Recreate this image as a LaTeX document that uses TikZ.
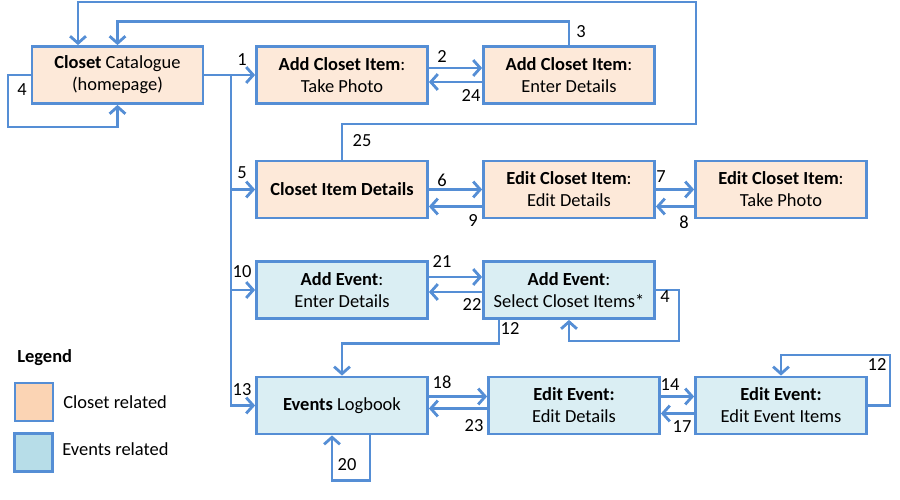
\documentclass[tikz,border=0pt]{standalone}
\usepackage{fontspec}
\setmainfont{Carlito}
\usetikzlibrary{arrows.meta}

\definecolor{boxline}{RGB}{85,142,213}
\definecolor{closetfill}{RGB}{253,233,217}
\definecolor{eventfill}{RGB}{218,238,243}
\definecolor{closetkey}{RGB}{251,212,180}
\definecolor{eventkey}{RGB}{183,221,232}

\begin{document}
\begin{tikzpicture}[x=0.02cm,y=-0.02cm,font=\fontsize{10.5}{12.5}\selectfont,
	screen/.style={rectangle,draw=boxline,line width=1.6pt,inner sep=0mm,minimum width=3.42cm,minimum height=1.14cm,align=center},
	closet/.style={screen,fill=closetfill},
	event/.style={screen,fill=eventfill},
	key/.style={rectangle,draw=boxline,line width=1.6pt,inner sep=0mm,minimum size=0.76cm},
	link/.style={draw=boxline,line width=1.6pt,-{Straight Barb[length=4pt,width=9pt]}},
	num/.style={inner sep=0mm}]
					\useasboundingbox (0,0) rectangle (900,500);
					\node (cat)       at (117.5,  75) [closet] {\textbf{Closet} Catalogue\\(homepage)};
					\node (takephoto) at (  342,  75) [closet] {\textbf{Add Closet Item}:\\Take Photo};
					\node (enter)     at (  569,  75) [closet] {\textbf{Add Closet Item}:\\Enter Details};
					\node (details)   at (  342,189.5) [closet] {\textbf{Closet Item Details}};
					\node (editdet)   at (  569,189.5) [closet] {\textbf{Edit Closet Item}:\\Edit Details};
					\node (edittake)  at (  781,189.5) [closet] {\textbf{Edit Closet Item}:\\Take Photo};
					\node (addev)     at (  342, 290) [event] {\textbf{Add Event}:\\Enter Details};
					\node (select)    at (  569, 290) [event] {\textbf{Add Event}:\\Select Closet Items*};
					\node (logbook)   at (  342,405.5) [event] {\textbf{Events} Logbook};
					\node (evdet)     at (  574,405.5) [event] {\textbf{Edit Event:}\\Edit Details};
					\node (evitems)   at (  781,405.5) [event] {\textbf{Edit Event:}\\Edit Event Items};
					\node (legend)    at (   17, 358) [num,anchor=west] {\textbf{Legend}};
					\node (keyc)      at (   34, 402) [key,fill=closetkey] {};
					\node (keye)      at ( 33.5,452.5) [key,fill=eventkey] {};
					\node (keyctext)  at (   63, 402) [num,anchor=west] {Closet related};
					\node (keyetext)  at (   62, 449) [num,anchor=west] {Events related};
					\coordinate (trunk) at (231,75);
					\coordinate (c25)   at (696,124);
					\coordinate (c25t)  at (696,2);
					\coordinate (c4)    at (8,127);
					\coordinate (c4b)   at (679,341);
					\coordinate (c12)   at (890,355);
					\draw [link] (cat) -- (takephoto);
					\draw [link] (trunk) |- (logbook);
					\draw [link] (trunk |- details) -- (details);
					\draw [link] (trunk |- addev) -- (addev);
					\draw [link] ([shift={(0,-7)}]takephoto.east) -- ([shift={(0,-7)}]enter.west);
					\draw [link] ([shift={(0,7)}]enter.west) -- ([shift={(0,7)}]takephoto.east);
					\draw [link] (enter.north) -- ++(0,-24) -| (cat.north);
					\draw [link] (details.north) |- (c25) -- (c25t) -| ([shift={(-39.5,0)}]cat.north);
					\draw [link] (cat.west) -| (c4) -| (cat.south);
					\draw [link] (details.east) -- (editdet.west);
					\draw [link] ([shift={(0,17)}]editdet.west) -- ([shift={(0,17)}]details.east);
					\draw [link] (editdet.east) -- (edittake.west);
					\draw [link] ([shift={(0,17)}]edittake.west) -- ([shift={(0,17)}]editdet.east);
					\draw [link] ([shift={(0,-13)}]addev.east) -- ([shift={(0,-13)}]select.west);
					\draw [link] ([shift={(0,2)}]select.west) -- ([shift={(0,2)}]addev.east);
					\draw [link] (select.east) -| (c4b) -| (select.south);
					\draw [link] ([shift={(-70,0)}]select.south) -- ++(0,24) -| (logbook.north);
					\draw [link] ([shift={(0,-9)}]logbook.east) -- ([shift={(0,-9)}]evdet.west);
					\draw [link] ([shift={(0,3)}]evdet.west) -- ([shift={(0,3)}]logbook.east);
					\draw [link] ([shift={(0,-9)}]evdet.east) -- ([shift={(0,-9)}]evitems.west);
					\draw [link] ([shift={(0,8)}]evitems.west) -- ([shift={(0,8)}]evdet.east);
					\draw [link] (evitems.east) -| (c12) -| (evitems.north);
					\draw [link] ([shift={(28,0)}]logbook.south) -- ++(0,45) -| ([shift={(-10,0)}]logbook.south);
					\node (n1)  at (242, 60) [num] {1};
					\node (n2)  at (442, 57) [num] {2};
					\node (n3)  at (581, 32) [num] {3};
					\node (n4)  at ( 22, 90) [num] {4};
					\node (n24) at (471, 96) [num] {24};
					\node (n25) at (362,141) [num] {25};
					\node (n5)  at (242,173) [num] {5};
					\node (n6)  at (442,180) [num] {6};
					\node (n9)  at (473,221) [num] {9};
					\node (n7)  at (661,177) [num] {7};
					\node (n8)  at (684,222) [num] {8};
					\node (n10) at (242,272) [num] {10};
					\node (n21) at (442,262) [num] {21};
					\node (n22) at (472,305) [num] {22};
					\node (n4b) at (665,297) [num] {4};
					\node (n12) at (510,329) [num] {12};
					\node (n13) at (242,390) [num] {13};
					\node (n18) at (442,382) [num] {18};
					\node (n23) at (474,426) [num] {23};
					\node (n14) at (670,385) [num] {14};
					\node (n17) at (682,427) [num] {17};
					\node (n12b) at (877,365) [num] {12};
					\node (n20) at (347,465) [num] {20};
				\end{tikzpicture}
\end{document}
